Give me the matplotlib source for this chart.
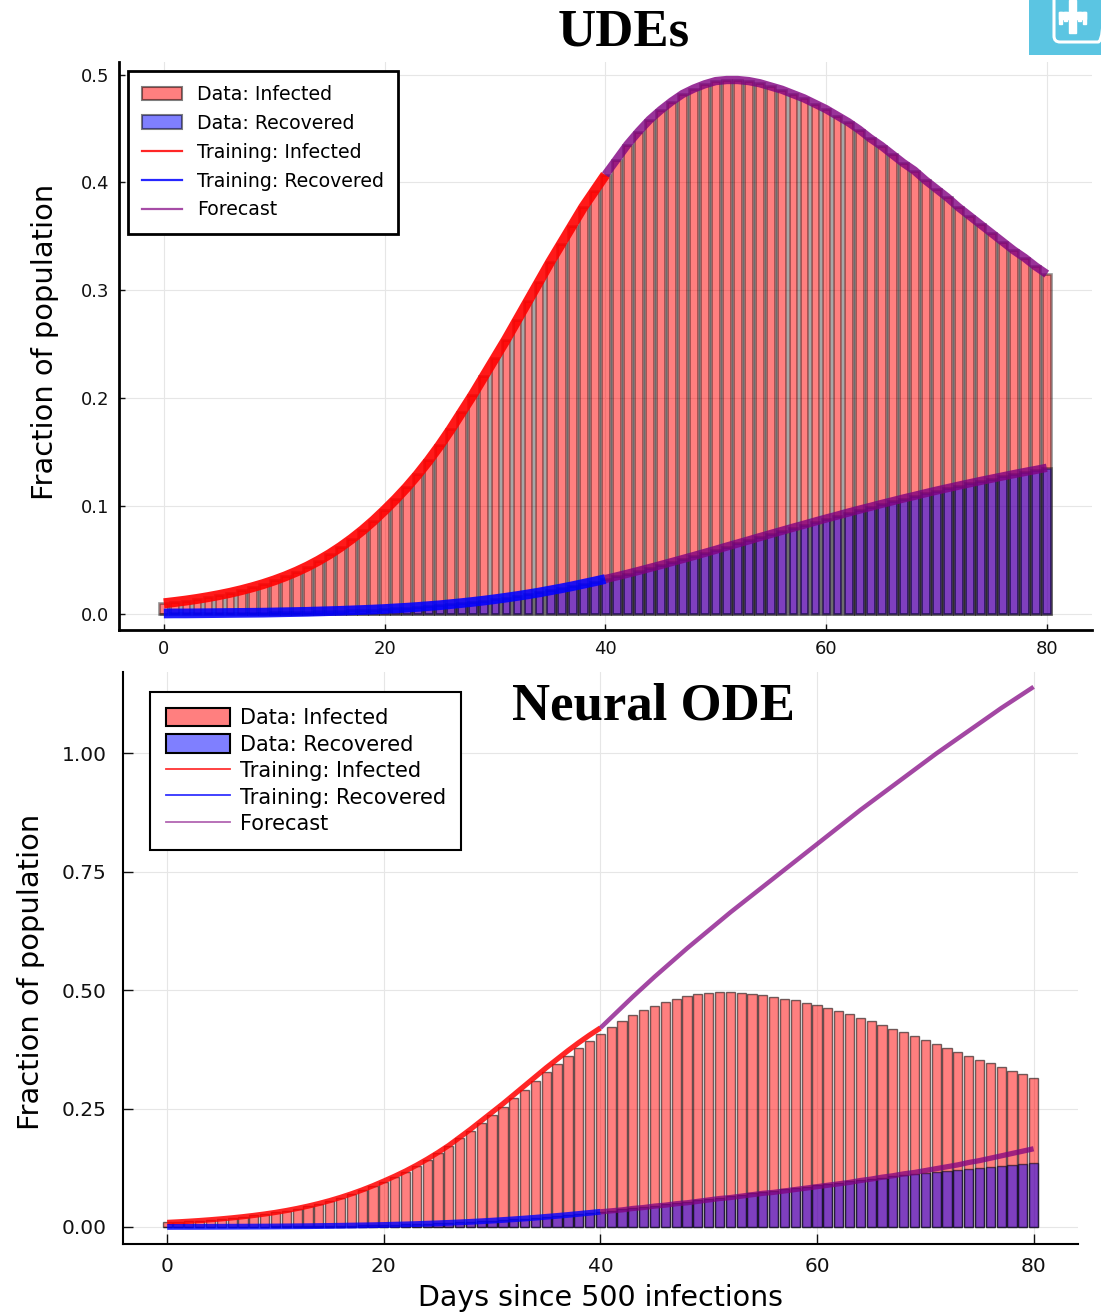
import numpy as np
import matplotlib.pyplot as plt
from matplotlib.patches import Patch, Rectangle, FancyBboxPatch
from matplotlib.lines import Line2D

# ─── DONNÉES ──────────────────────────────────────────────────────────────────

W, H = 1101, 1315

days = np.arange(0, 81)

infected = [
    0.0095, 0.0107, 0.0120, 0.0135, 0.0152, 0.0171, 0.0192, 0.0216, 0.0243, 0.0273, 0.0307,
    0.0345, 0.0388, 0.0436, 0.0490, 0.0550, 0.0617, 0.0691, 0.0772, 0.0861, 0.0958,
    0.106, 0.117, 0.129, 0.142, 0.156, 0.171, 0.187, 0.203, 0.220, 0.237,
    0.254, 0.272, 0.290, 0.308, 0.326, 0.343, 0.360, 0.377, 0.392, 0.407,
    0.421, 0.435, 0.447, 0.458, 0.467, 0.475, 0.482, 0.487, 0.491, 0.494,
    0.495, 0.495, 0.494, 0.492, 0.489, 0.486, 0.482, 0.478, 0.473, 0.468,
    0.462, 0.456, 0.449, 0.441, 0.434, 0.426, 0.418, 0.411, 0.402, 0.394,
    0.386, 0.377, 0.369, 0.361, 0.353, 0.345, 0.337, 0.330, 0.322, 0.315,
]

recovered = [
    0.0, 0.0001, 0.0001, 0.0002, 0.0003, 0.0004, 0.0005, 0.0006, 0.0007, 0.0008, 0.0010,
    0.0012, 0.0014, 0.0016, 0.0019, 0.0022, 0.0025, 0.0029, 0.0033, 0.0037, 0.0042,
    0.0048, 0.0054, 0.0061, 0.0069, 0.0077, 0.0087, 0.0097, 0.0108, 0.0120, 0.0133,
    0.0147, 0.0162, 0.0178, 0.0195, 0.0214, 0.0233, 0.0253, 0.0275, 0.0297, 0.0320,
    0.0344, 0.0369, 0.0395, 0.0422, 0.0449, 0.0477, 0.0505, 0.0533, 0.0562, 0.0591,
    0.0621, 0.0650, 0.0679, 0.0709, 0.0738, 0.0767, 0.0796, 0.0824, 0.0853, 0.0881,
    0.0908, 0.0936, 0.0963, 0.0989, 0.1016, 0.1041, 0.1067, 0.1091, 0.1116, 0.1140,
    0.1163, 0.1186, 0.1208, 0.1230, 0.1251, 0.1272, 0.1293, 0.1313, 0.1332, 0.1352,
]

train_days = days[:41]
forecast_days = days[40:]

# UDE : l'ajustement se superpose aux données
ude_train_infected = infected[:41]
ude_train_recovered = recovered[:41]
ude_forecast_infected = infected[40:]
ude_forecast_recovered = recovered[40:]

# Neural ODE
node_train_infected = [
    0.0095, 0.0107, 0.0120, 0.0135, 0.0152, 0.0171, 0.0192, 0.0216, 0.0243, 0.0273, 0.0307,
    0.0346, 0.0390, 0.0439, 0.0494, 0.0555, 0.0623, 0.0698, 0.0780, 0.0870, 0.0968,
    0.107, 0.118, 0.130, 0.143, 0.157, 0.172, 0.189, 0.206, 0.224, 0.242,
    0.260, 0.279, 0.298, 0.317, 0.336, 0.354, 0.372, 0.389, 0.405, 0.420,
]
node_train_recovered = recovered[:41]
node_forecast_infected = [
    0.420, 0.442, 0.464, 0.486, 0.507, 0.528, 0.548, 0.568, 0.588, 0.607, 0.626,
    0.645, 0.664, 0.682, 0.700, 0.718, 0.736, 0.754, 0.772, 0.790, 0.808,
    0.826, 0.844, 0.862, 0.880, 0.897, 0.914, 0.931, 0.948, 0.965, 0.982,
    0.999, 1.015, 1.031, 1.047, 1.063, 1.079, 1.095, 1.110, 1.125, 1.140,
]
node_forecast_recovered = [
    0.032, 0.034, 0.036, 0.039, 0.041, 0.044, 0.046, 0.049, 0.051, 0.054, 0.057,
    0.060, 0.062, 0.065, 0.068, 0.071, 0.073, 0.076, 0.079, 0.082, 0.085,
    0.088, 0.091, 0.094, 0.098, 0.101, 0.105, 0.108, 0.112, 0.115, 0.119,
    0.123, 0.127, 0.131, 0.136, 0.140, 0.145, 0.150, 0.155, 0.160, 0.165,
]

LABELS = ["Data: Infected", "Data: Recovered", "Training: Infected",
          "Training: Recovered", "Forecast"]

RED_FILL = (1, 0, 0, 0.5)
BLUE_FILL = (0, 0, 1, 0.5)
EDGE = (0, 0, 0, 0.5)
PURPLE = "#800080"


def fig_box(x0, y0, x1, y1):
    """pixels (origine en haut à gauche) -> fractions de figure"""
    return [x0 / W, 1 - y1 / H, (x1 - x0) / W, (y1 - y0) / H]


def style_axes(ax, lw_spine, tick_len, tick_size, pad_y, pad_x):
    for s in ["top", "right"]:
        ax.spines[s].set_visible(False)
    for s in ["left", "bottom"]:
        ax.spines[s].set_linewidth(lw_spine)
    ax.tick_params(direction="in", length=tick_len, width=1, labelsize=tick_size,
                   colors="#111111")
    ax.tick_params(axis="y", pad=pad_y)
    ax.tick_params(axis="x", pad=pad_x)
    ax.grid(True, color="#e6e6e6", linewidth=0.8)
    ax.set_axisbelow(True)


fig = plt.figure(figsize=(W / 100, H / 100), dpi=100)

# ─── PANNEAU 1 : UDEs ─────────────────────────────────────────────────────────

ax1 = fig.add_axes(fig_box(118.6, 61.7, 1092, 630))
ax1.bar(days, infected, width=0.8, color=RED_FILL, edgecolor=(0, 0, 0, 0.42), linewidth=1.9)
ax1.bar(days, recovered, width=0.8, color=BLUE_FILL, edgecolor=(0, 0, 0, 0.42), linewidth=1.9)
ax1.plot(train_days, ude_train_infected, color="red", lw=7.2, alpha=0.9,
         solid_capstyle="butt", zorder=3)
ax1.plot(train_days, ude_train_recovered, color="blue", lw=7.0, alpha=0.88,
         solid_capstyle="butt", zorder=3)
ax1.plot(forecast_days, ude_forecast_infected, color=PURPLE, lw=6, alpha=0.8,
         solid_capstyle="butt", zorder=3)
ax1.plot(forecast_days, ude_forecast_recovered, color=PURPLE, lw=6, alpha=0.8,
         solid_capstyle="butt", zorder=3)
ax1.set_xlim(-4.1, 84.1)
ax1.set_ylim(-0.0153, 0.512)
ax1.set_xticks([0, 20, 40, 60, 80])
ax1.set_yticks([0.0, 0.1, 0.2, 0.3, 0.4, 0.5])
ax1.set_yticklabels(["0.0", "0.1", "0.2", "0.3", "0.4", "0.5"])
style_axes(ax1, 2, 4.3, 13, 7, 7)

handles1 = [
    Patch(facecolor=RED_FILL, edgecolor=EDGE, linewidth=1.5),
    Patch(facecolor=BLUE_FILL, edgecolor=EDGE, linewidth=1.5),
    Line2D([], [], color="red", lw=1.6, alpha=0.85),
    Line2D([], [], color="blue", lw=1.6, alpha=0.85),
    Line2D([], [], color=PURPLE, lw=1.6, alpha=0.7),
]
leg1 = ax1.legend(handles1, LABELS, loc="upper left",
                  bbox_to_anchor=(128 / W, 1 - 71 / H), bbox_transform=fig.transFigure,
                  fontsize=13.6, handlelength=2.1, handleheight=0.75, handletextpad=0.8,
                  labelspacing=0.52, borderpad=0.75, borderaxespad=0,
                  fancybox=False, framealpha=1, edgecolor="black")
leg1.get_frame().set_linewidth(2)

# ─── PANNEAU 2 : Neural ODE ───────────────────────────────────────────────────

ax2 = fig.add_axes(fig_box(122.8, 671.7, 1078, 1244))
ax2.bar(days, infected, width=0.85, color=RED_FILL, edgecolor=(0, 0, 0, 0.55), linewidth=1.0)
ax2.bar(days, recovered, width=0.85, color=BLUE_FILL, edgecolor=(0, 0, 0, 0.55), linewidth=1.0)
ax2.plot(train_days, node_train_infected, color="red", lw=3.8, alpha=0.85,
         solid_capstyle="butt", zorder=3)
ax2.plot(train_days, node_train_recovered, color="blue", lw=4.2, alpha=0.8,
         solid_capstyle="butt", zorder=3)
ax2.plot(forecast_days, node_forecast_infected, color=PURPLE, lw=3.2, alpha=0.72,
         solid_capstyle="butt", zorder=3)
ax2.plot(forecast_days, node_forecast_recovered, color=PURPLE, lw=3.8, alpha=0.75,
         solid_capstyle="butt", zorder=3)
ax2.set_xlim(-4.1, 84.1)
ax2.set_ylim(-0.036, 1.172)
ax2.set_xticks([0, 20, 40, 60, 80])
ax2.set_yticks([0.0, 0.25, 0.5, 0.75, 1.0])
ax2.set_yticklabels(["0.00", "0.25", "0.50", "0.75", "1.00"])
style_axes(ax2, 1.5, 7, 14.5, 11.5, 9)

handles2 = [
    Patch(facecolor=RED_FILL, edgecolor="black", linewidth=1.5),
    Patch(facecolor=BLUE_FILL, edgecolor="black", linewidth=1.5),
    Line2D([], [], color="red", lw=1.3, alpha=0.8),
    Line2D([], [], color="blue", lw=1.3, alpha=0.8),
    Line2D([], [], color=PURPLE, lw=1.3, alpha=0.6),
]
leg2 = ax2.legend(handles2, LABELS, loc="upper left",
                  bbox_to_anchor=(150 / W, 1 - 692 / H), bbox_transform=fig.transFigure,
                  fontsize=15, handlelength=3.1, handleheight=1.0, handletextpad=0.45,
                  labelspacing=0.29, borderpad=0.75, borderaxespad=0,
                  fancybox=False, framealpha=1, edgecolor="black")
leg2.get_frame().set_linewidth(1.5)

# ─── TEXTES ───────────────────────────────────────────────────────────────────

fig.text(45 / W, 1 - 342 / H, "Fraction of population", rotation=90,
         ha="center", va="center", fontsize=20.8)
fig.text(31 / W, 1 - 972 / H, "Fraction of population", rotation=90,
         ha="center", va="center", fontsize=20.8)
fig.text(600 / W, 1 - 1298 / H, "Days since 500 infections",
         ha="center", va="center", fontsize=20.5)

fig.text(624 / W, 1 - 46 / H, "UDEs", ha="center", va="baseline",
         fontsize=38, fontweight="bold", family="Liberation Serif")
fig.text(654 / W, 1 - 720 / H, "Neural ODE", ha="center", va="baseline",
         fontsize=38, fontweight="bold", family="Liberation Serif")

# logo (coin supérieur droit)
axl = fig.add_axes(fig_box(1029, 0, 1101, 55))
axl.set_xlim(0, 72)
axl.set_ylim(55, 0)
axl.axis("off")
axl.add_patch(Rectangle((0, 0), 72, 55, color="#5bc5e2"))
axl.add_patch(FancyBboxPatch((25, -12), 50, 54, boxstyle="round,pad=0,rounding_size=6",
                             facecolor="none", edgecolor="white", linewidth=2.2))
for (x, y, w, h) in [(40, 0, 7, 33), (30, 12, 27, 7), (30, 12, 3, 12),
                     (35, 12, 3, 9), (54, 12, 3, 12), (49, 12, 3, 9)]:
    axl.add_patch(Rectangle((x, y), w, h, color="white"))

fig.savefig("out.png", dpi=100)
